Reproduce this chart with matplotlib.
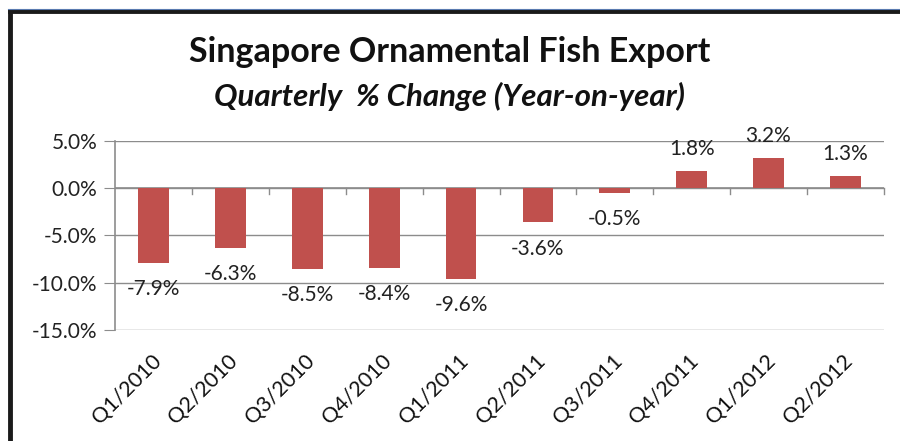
"""Singapore ornamental fish export, quarterly % change (YoY)."""
import matplotlib.pyplot as plt
from matplotlib.lines import Line2D
from matplotlib.ticker import FuncFormatter

quarters = ["Q1/2010", "Q2/2010", "Q3/2010", "Q4/2010", "Q1/2011",
            "Q2/2011", "Q3/2011", "Q4/2011", "Q1/2012", "Q2/2012"]
pct_change = [-7.9, -6.3, -8.5, -8.4, -9.6, -3.6, -0.5, 1.8, 3.2, 1.3]
y_ticks = [5, 0, -5, -10, -15]

BAR = "#C0504D"
GRID = "#8C8C8C"
FONT = "Lato"


def main() -> None:
    plt.rcParams["font.family"] = [FONT, "DejaVu Sans"]
    fig = plt.figure(figsize=(9, 4.41), dpi=100)
    ax = fig.add_axes([0.128, 0.252, 0.854, 0.428])

    x = list(range(len(quarters)))
    ax.bar(x, pct_change, width=0.4, color=BAR, zorder=3)

    ax.set_xlim(-0.5, len(quarters) - 0.5)
    ax.set_ylim(-15, 5)
    ax.set_yticks(y_ticks)
    ax.yaxis.set_major_formatter(FuncFormatter(lambda v, _: f"{v:.1f}%"))
    ax.tick_params(axis="y", length=8, color=GRID, labelsize=15,
                   labelcolor="#222222", pad=5)
    ax.grid(axis="y", color=GRID, linewidth=1, zorder=0)

    # x axis: line at zero with tick marks between categories
    ax.axhline(0, color=GRID, linewidth=1.2, zorder=2)
    ax.set_xticks([i - 0.5 for i in x] + [len(quarters) - 0.5])
    ax.tick_params(axis="x", length=0, labelbottom=False)
    for b in [i + 0.5 for i in x]:
        ax.plot([b, b], [0, -0.6], color=GRID, linewidth=1, zorder=2,
                clip_on=False)
    ax.plot([-0.5, -0.5], [-15, 5], color=GRID, linewidth=1.2, zorder=2,
            clip_on=False)
    for lbl, xi in zip(quarters, x):
        ax.annotate(lbl, xy=(xi, -15), xytext=(-2, -15),
                    textcoords="offset points", rotation=45,
                    rotation_mode="anchor", ha="right", va="top",
                    fontsize=15.5, color="#111111", annotation_clip=False)

    for s in ax.spines.values():
        s.set_visible(False)

    for xi, v in zip(x, pct_change):
        off = 16 if v >= 0 else -19
        ax.annotate(f"{v:.1f}%", xy=(xi, v), xytext=(0, off),
                    textcoords="offset points", ha="center", va="center",
                    fontsize=15, color="#222222")

    fig.text(0.5, 0.882, "Singapore Ornamental Fish Export", ha="center",
             va="center", fontsize=24.5, fontweight="bold", color="#111111")
    fig.text(0.5, 0.782, "Quarterly  % Change (Year-on-year)", ha="center",
             va="center", fontsize=22.5, fontweight="bold", style="italic",
             color="#111111")

    # chart frame (top and left edges, the rest is cut off)
    fig.add_artist(Line2D([10 / 900, 10 / 900], [0, 1 - 11 / 441],
                          transform=fig.transFigure, color="#1a1a1a",
                          linewidth=3.5))
    fig.add_artist(Line2D([10 / 900, 1], [1 - 11 / 441, 1 - 11 / 441],
                          transform=fig.transFigure, color="#1a1a1a",
                          linewidth=3.5))
    fig.add_artist(Line2D([8 / 900, 1], [1 - 9 / 441, 1 - 9 / 441],
                          transform=fig.transFigure, color="#5a7bb0",
                          linewidth=0.8))

    fig.savefig("out.png", dpi=100)
    plt.close(fig)


if __name__ == "__main__":
    main()
